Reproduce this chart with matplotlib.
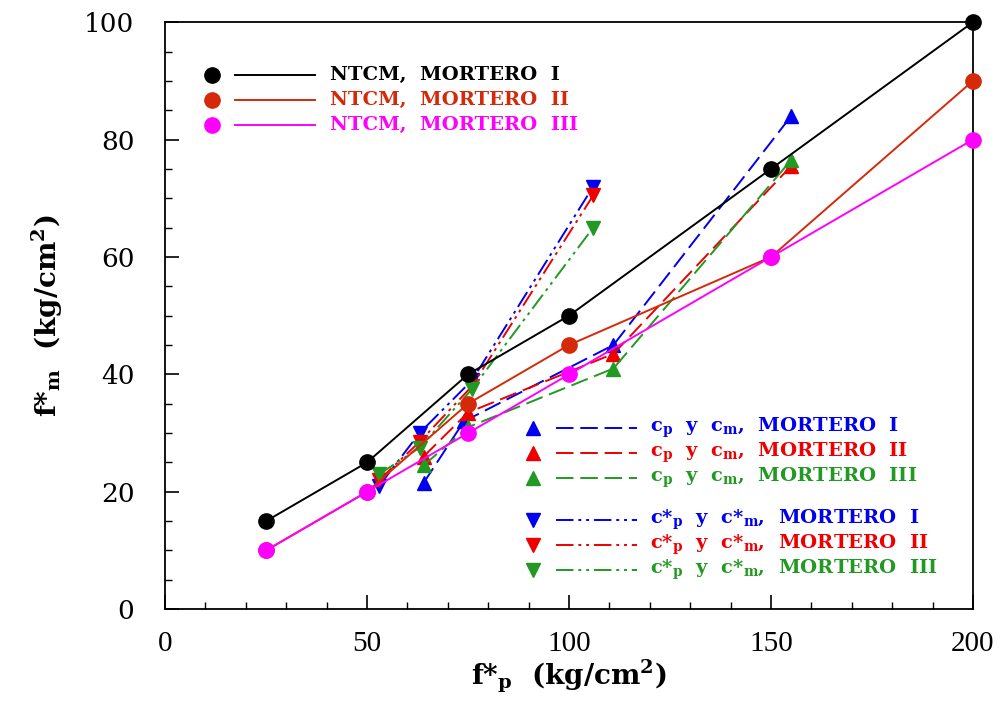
import matplotlib
matplotlib.use("Agg")
import matplotlib.pyplot as plt
from matplotlib.ticker import MultipleLocator

plt.rcParams['mathtext.fontset'] = 'custom'
plt.rcParams['mathtext.rm'] = 'DejaVu Serif'
plt.rcParams['mathtext.bf'] = 'DejaVu Serif:bold'
plt.rcParams['mathtext.default'] = 'bf'

# NTCM series
ntcm_x = [25, 50, 75, 100, 150, 200]
ntcm1_y = [15, 25, 40, 50, 75, 100]
ntcm2_y = [10, 20, 35, 45, 60, 90]
ntcm3_y = [10, 20, 30, 40, 60, 80]

# cp y cm (up triangles)
up1_x = [64, 74, 111, 155]
up1_y = [21.5, 32, 45, 84]
up2_x = [64, 75, 111, 155]
up2_y = [26, 33.5, 43.5, 75.5]
up3_x = [64, 75, 111, 155]
up3_y = [24.5, 31, 41, 76.5]

# c*p y c*m (down triangles)
dn1_x = [53, 63, 76, 106]
dn1_y = [21, 30, 39, 72]
dn2_x = [53, 63, 76, 106]
dn2_y = [22, 28.5, 38, 70.5]
dn3_x = [53, 63, 76, 106]
dn3_y = [23, 27.5, 37.5, 65]

BLACK = '#000000'
DRED = '#d42a0a'
MAG = '#ff00ff'
BLUE = '#0000ee'
RED = '#ee0000'
GREEN = '#229922'

DASH = (0, (9, 3.5))
DDOT = (0, (9, 2.5, 1.5, 2.5, 1.5, 2.5))

fig = plt.figure(figsize=(10.02, 7.15), dpi=100)
ax = fig.add_axes([0.1647, 0.148, 0.971 - 0.1647, 0.969 - 0.148])

lw = 1.4
ms_c = 11
ms_t = 10.5

for x, y, c in [(up1_x, up1_y, BLUE), (up2_x, up2_y, RED), (up3_x, up3_y, GREEN)]:
    ax.plot(x, y, color=c, lw=lw, linestyle=DASH, marker='^', ms=ms_t, zorder=3, clip_on=False)
for x, y, c in [(dn1_x, dn1_y, BLUE), (dn2_x, dn2_y, RED), (dn3_x, dn3_y, GREEN)]:
    ax.plot(x, y, color=c, lw=lw, linestyle=DDOT, marker='v', ms=ms_t, zorder=3, clip_on=False)
ax.plot(ntcm_x, ntcm1_y, color=BLACK, lw=lw, marker='o', ms=ms_c, zorder=4, clip_on=False)
ax.plot(ntcm_x, ntcm2_y, color=DRED, lw=lw, marker='o', ms=ms_c, zorder=4, clip_on=False)
ax.plot(ntcm_x, ntcm3_y, color=MAG, lw=lw, marker='o', ms=ms_c, zorder=4, clip_on=False)

ax.set_xlim(0, 200)
ax.set_ylim(0, 100)
ax.xaxis.set_major_locator(MultipleLocator(50))
ax.xaxis.set_minor_locator(MultipleLocator(10))
ax.yaxis.set_major_locator(MultipleLocator(20))
ax.yaxis.set_minor_locator(MultipleLocator(5))
ax.tick_params(which='both', direction='in', top=False, right=False)
ax.tick_params(which='major', length=10, width=1.2)
ax.tick_params(which='minor', length=5, width=1.0)
ax.tick_params(axis='x', pad=16)
ax.tick_params(axis='y', pad=22)
for s in ax.spines.values():
    s.set_linewidth(1.3)
for lab in ax.get_xticklabels():
    lab.set_fontfamily('Liberation Serif')
    lab.set_fontsize(21)
for lab in ax.get_yticklabels():
    lab.set_fontfamily('DejaVu Serif')
    lab.set_fontsize(19)

ax.set_xlabel(r'f*$_{\mathbf{p}}$  (kg/cm$^{\mathbf{2}}$)', fontsize=20,
              fontfamily='DejaVu Serif', fontweight='bold', labelpad=0)
ax.set_ylabel(r'f*$_{\mathbf{m}}$  (kg/cm$^{\mathbf{2}}$)', fontsize=20,
              fontfamily='DejaVu Serif', fontweight='bold', labelpad=14)

# manual legends (pixel -> axes fraction)
x0p, x1p, y0p, y1p = 165, 973, 609, 22

def ax_xy(px, py):
    return (px - x0p) / (x1p - x0p), (y0p - py) / (y0p - y1p)

def legend_row(py, mx, lx0, lx1, tx, marker, ms, color, ls, text, tcolor):
    a, b = ax_xy(mx, py)
    ax.plot([a], [b], marker=marker, ms=ms, color=color, transform=ax.transAxes, clip_on=False)
    l0, _ = ax_xy(lx0, py)
    l1, _ = ax_xy(lx1, py)
    ax.plot([l0, l1], [b, b], color=color, lw=lw, linestyle=ls, transform=ax.transAxes)
    t, _ = ax_xy(tx, py)
    ax.text(t, b, text, color=tcolor, transform=ax.transAxes, fontsize=14,
            fontfamily='DejaVu Serif', fontweight='bold', va='center', ha='left')

legend_row(75, 212, 235, 315, 330, 'o', ms_c, BLACK, '-', 'NTCM,  MORTERO  I', BLACK)
legend_row(100, 212, 235, 315, 330, 'o', ms_c, DRED, '-', 'NTCM,  MORTERO  II', DRED)
legend_row(125, 212, 235, 315, 330, 'o', ms_c, MAG, '-', 'NTCM,  MORTERO  III', MAG)

rows_up = [(428, BLUE, 'I'), (453, RED, 'II'), (478, GREEN, 'III')]
for py, c, m in rows_up:
    legend_row(py, 533, 556, 637, 650, '^', ms_t, c, DASH,
               r'c$_{\mathbf{p}}$  y  c$_{\mathbf{m}}$,  MORTERO  ' + m, c)
rows_dn = [(520, BLUE, 'I'), (545, RED, 'II'), (570, GREEN, 'III')]
for py, c, m in rows_dn:
    legend_row(py, 533, 556, 637, 650, 'v', ms_t, c, DDOT,
               r'c*$_{\mathbf{p}}$  y  c*$_{\mathbf{m}}$,  MORTERO  ' + m, c)

fig.savefig('out.png', dpi=100)
